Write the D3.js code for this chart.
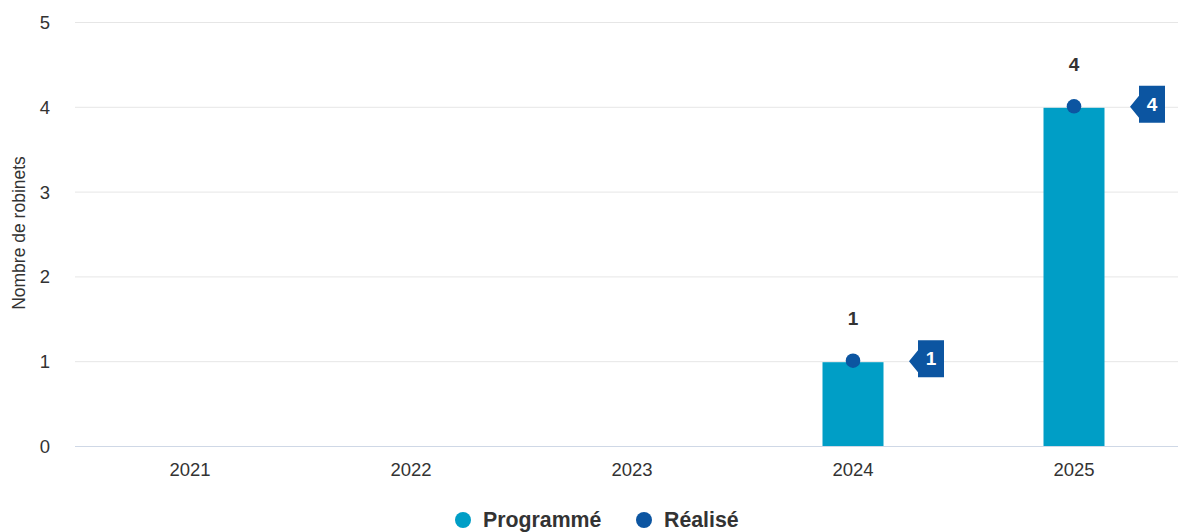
<!DOCTYPE html>
<html><head><meta charset="utf-8">
<script src="https://cdn.jsdelivr.net/npm/d3@7"></script>
<style>body{margin:0;background:#fff;font-family:"Liberation Sans",Arial,sans-serif;}</style>
</head><body><svg id="c" width="1178" height="532"></svg>
<script>
const categories = ["2021","2022","2023","2024","2025"];
const programme = [0,0,0,1,4];
const realise = [null,null,null,1,4];
const yTicks = [0,1,2,3,4,5];
const seriesNames = ["Programmé","Réalisé"];

const svg = d3.select("#c");
const x = d3.scaleBand().domain(categories).range([79.5,1184.5]);
const y = d3.scaleLinear().domain([0,5]).range([446,22]);
const barColor = "#009ec6", dotColor = "#0c55a1";

// gridlines
svg.append("g").selectAll("line").data(yTicks).join("line")
  .attr("x1",75).attr("x2",1178).attr("y1",d=>y(d)+0.5).attr("y2",d=>y(d)+0.5)
  .attr("stroke",d=>d===0?"#cfd8e6":"#e6e6e6").attr("stroke-width",1);

// y labels
svg.append("g").selectAll("text").data(yTicks).join("text")
  .attr("x",50).attr("y",d=>y(d)+7).attr("text-anchor","end")
  .attr("font-size",18.5).attr("fill","#333").text(d=>d);

// x labels
svg.append("g").selectAll("text").data(categories).join("text")
  .attr("x",d=>x(d)+x.bandwidth()/2).attr("y",476).attr("text-anchor","middle")
  .attr("font-size",18.5).attr("fill","#333").text(d=>d);

// y title
svg.append("text").attr("transform","translate(25,233) rotate(-90)")
  .attr("text-anchor","middle").attr("font-size",17.5).attr("fill","#333").text("Nombre de robinets");

// bars
const bw = 61;
const pd = categories.map((c,i)=>({c,v:programme[i]})).filter(d=>d.v>0);
svg.append("g").selectAll("rect").data(pd).join("rect")
  .attr("x",d=>x(d.c)+x.bandwidth()/2-bw/2).attr("width",bw)
  .attr("y",d=>y(d.v)+1).attr("height",d=>y(0)-y(d.v)-1).attr("fill",barColor);

// bar labels
svg.append("g").selectAll("text").data(pd).join("text")
  .attr("x",d=>x(d.c)+x.bandwidth()/2).attr("y",d=>y(d.v)-36).attr("text-anchor","middle")
  .attr("font-size",19).attr("font-weight","bold").attr("fill","#333").text(d=>d.v);

const rd = categories.map((c,i)=>({c,v:realise[i]})).filter(d=>d.v!=null);
// dots
svg.append("g").selectAll("circle").data(rd).join("circle")
  .attr("cx",d=>x(d.c)+x.bandwidth()/2).attr("cy",d=>y(d.v)-0.5).attr("r",7.3).attr("fill",dotColor);

// flags
const fg = svg.append("g").selectAll("g").data(rd).join("g")
  .attr("transform",d=>`translate(${x(d.c)+x.bandwidth()/2+56},${y(d.v)})`);
fg.append("path").attr("d","M0,0 L9,-11 L9,-21 L35,-21 L35,16 L9,16 L9,11 Z").attr("fill",dotColor);
fg.append("text").attr("x",22).attr("y",4).attr("text-anchor","middle")
  .attr("font-size",19).attr("font-weight","bold").attr("fill","#fff").text(d=>d.v);

// legend
const lg = svg.append("g");
const legItems = [{n:seriesNames[0],c:barColor,x:463},{n:seriesNames[1],c:dotColor,x:644}];
lg.selectAll("circle").data(legItems).join("circle").attr("cx",d=>d.x).attr("cy",520).attr("r",8).attr("fill",d=>d.c);
lg.selectAll("text").data(legItems).join("text").attr("x",d=>d.x+20).attr("y",527)
  .attr("font-size",21.3).attr("font-weight","bold").attr("fill","#333").text(d=>d.n);
</script></body></html>
